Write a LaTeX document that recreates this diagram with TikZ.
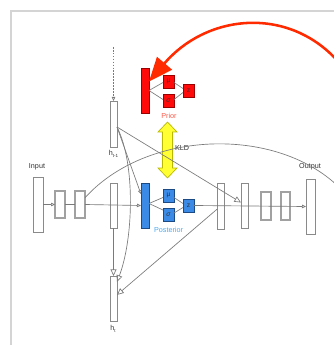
\documentclass[tikz,border=0pt]{standalone}
\usepackage{fontspec}
\setmainfont{Liberation Sans}
\usetikzlibrary{arrows.meta,calc}
\definecolor{lnc}{HTML}{7A7A7A}
\definecolor{boxc}{HTML}{8A8A8A}
\definecolor{framec}{HTML}{D4D4D4}
\definecolor{txt}{HTML}{333333}
\definecolor{redf}{HTML}{FF0A0A}
\definecolor{redd}{HTML}{9A0000}
\definecolor{redlab}{HTML}{FF5A4A}
\definecolor{arrred}{HTML}{FF2A00}
\definecolor{bluef}{HTML}{3A8AE6}
\definecolor{blued}{HTML}{1B4A85}
\definecolor{bluelab}{HTML}{4AA8F0}
\definecolor{yelf}{HTML}{FFFF33}
\definecolor{yeld}{HTML}{B8B800}
\tikzset{
  sz/.style 2 args={minimum width=#1*0.75pt, minimum height=#2*0.75pt, inner sep=0pt, outer sep=0pt},
  wbox/.style={draw=boxc, fill=white, line width=0.5pt},
  thbox/.style={draw=boxc!80, fill=white, line width=0.9pt},
  redbox/.style={draw=redd, fill=redf, line width=0.5pt},
  bluebox/.style={draw=blued, fill=bluef, line width=0.5pt},
  lbl/.style={text=txt, font=\fontsize{5.4}{6}\selectfont, inner sep=0pt},
  inlbl/.style={font=\fontsize{5}{5.5}\selectfont, text=black!80},
  conn/.style={draw=lnc, line width=0.5pt},
  sarr/.style={-{Triangle[open,length=3pt,width=2.6pt]}},
  barr/.style={-{Triangle[open,length=5pt,width=4.5pt]}},
}
\begin{document}
\begin{tikzpicture}[x=0.75pt,y=-0.75pt]
\useasboundingbox (0,0) rectangle (334,345);
\clip (0,0) rectangle (334,345);
% frame
\draw[framec, line width=0.9pt] (11,345) -- (11,11) -- (334,11);

% KLD double arrow
\draw[fill=yelf, draw=yeld, line width=0.5pt]
  (167.5,122) -- (177,132) -- (172.5,132) -- (172.5,168) -- (177,168) -- (167.5,178)
  -- (158,168) -- (162.5,168) -- (162.5,132) -- (158,132) -- cycle;
\node[lbl] (kld) at (182,148) {KLD};

% encoder
\node[wbox, sz={10}{55}] (input) at (38,204.5) {};
\node[lbl] (inputl) at (37,167) {Input};
\node[thbox, sz={10}{27}] (e2) at (60,204.5) {};
\node[thbox, sz={10}{27}] (e3) at (80,204.5) {};
\node[wbox, sz={7}{45}] (e4) at (113.5,205.5) {};

% h nodes
\node[wbox, sz={7}{46}] (hprev) at (113.5,124) {};
\node[lbl] (hprevl) at (113.5,154) {h\raisebox{-0.35ex}{\fontsize{3.4}{4}\selectfont t-1}};
\node[wbox, sz={7}{45}] (ht) at (113.5,298.5) {};
\node[lbl] (htl) at (113,329) {h\raisebox{-0.35ex}{\fontsize{3.4}{4}\selectfont t}};
\coordinate (dtop) at (113.5,47);

% prior
\node[redbox, sz={8}{45}] (pbar) at (145,90.5) {};
\node[redbox, sz={11}{13}, inlbl] (pmu) at (168.5,81.5) {μ};
\node[redbox, sz={11}{13}, inlbl] (psig) at (168.5,100.5) {\itshape σ};
\node[redbox, sz={11}{13}, inlbl] (pz) at (188.5,90.5) {z};
\node[lbl, text=redlab] (priorl) at (169,115.5) {Prior};

% posterior
\node[bluebox, sz={8}{45}] (qbar) at (145,205.5) {};
\node[bluebox, sz={11}{13}, inlbl] (qmu) at (168.5,195.5) {μ};
\node[bluebox, sz={11}{13}, inlbl] (qsig) at (168.5,215) {\itshape σ};
\node[bluebox, sz={11}{13}, inlbl] (qz) at (188.5,205.5) {z};
\node[lbl, text=bluelab] (postl) at (168.5,230) {Posterior};

% decoder
\node[wbox, sz={7}{46}] (dA) at (220.5,206) {};
\node[wbox, sz={7}{45}] (dB) at (244.5,205.5) {};
\node[thbox, sz={10}{28}] (dC) at (266,206) {};
\node[thbox, sz={9}{28}] (dD) at (285.5,206) {};
\node[wbox, sz={9}{55}] (out) at (310.5,206.5) {};
\node[lbl] (outl) at (310,167) {Output};

\coordinate (arcend) at (348,197);
\coordinate (redstart) at (348,74);

% connectors
\draw[conn, dashed, dash pattern=on 1.2pt off 1pt, sarr] (dtop) -- (hprev.north);
\draw[conn, sarr] (input.east) -- (e2.west);
\draw[conn] (e2.east) -- (e3.west);
\draw[conn, sarr] (e3.east) -- (qbar.west);
\draw[conn, sarr] ($(hprev.east)+(0,3)$) -- ($(qbar.north west)!0.25!(qbar.south west)$);
\draw[conn, barr] ($(hprev.east)+(0,3)$) -- ($(dB.west)+(0,-3)$);
\draw[conn, barr] ($(hprev.east)+(0,3)$) .. controls (136,165) and (133,240) .. ($(ht.north east)!0.13!(ht.south east)$);
\draw[conn, barr] (e4.south) -- (ht.north);
\draw[conn, barr] ($(dA.north west)!0.57!(dA.south west)$) -- ($(ht.north east)!0.42!(ht.south east)$);
\draw[conn] ($(e3.north east)!0.25!(e3.south east)$) .. controls (150,126) and (290,126) .. (arcend);
\draw[conn, sarr] (qz.east) -- (out.west);
% prior internals
\draw[conn] ($(pbar.east)+(0,0)$) -- ($(pmu.west)+(0,1)$);
\draw[conn] ($(pbar.east)+(0,0)$) -- ($(psig.west)+(0,-1)$);
\draw[conn] ($(pmu.east)+(0,1)$) -- ($(pz.west)+(0,-2)$);
\draw[conn] ($(psig.east)+(0,-1)$) -- ($(pz.west)+(0,2)$);
% posterior internals
\draw[conn] ($(qbar.east)+(0,-2)$) -- ($(qmu.west)+(0,2)$);
\draw[conn] ($(qbar.east)+(0,-2)$) -- ($(qsig.west)+(0,-5)$);
\draw[conn] ($(qmu.east)+(0,2)$) -- ($(qz.west)+(0,-2)$);
\draw[conn] ($(qsig.east)+(0,-2)$) -- ($(qz.west)+(0,2)$);

% big red arrow
\draw[arrred, line width=1.9pt, -{Triangle[length=18pt,width=14.5pt]}]
  (redstart) .. controls (300,5) and (210,10) .. ($(pbar.north east)!0.3!(pbar.south east)$);
\end{tikzpicture}
\end{document}
